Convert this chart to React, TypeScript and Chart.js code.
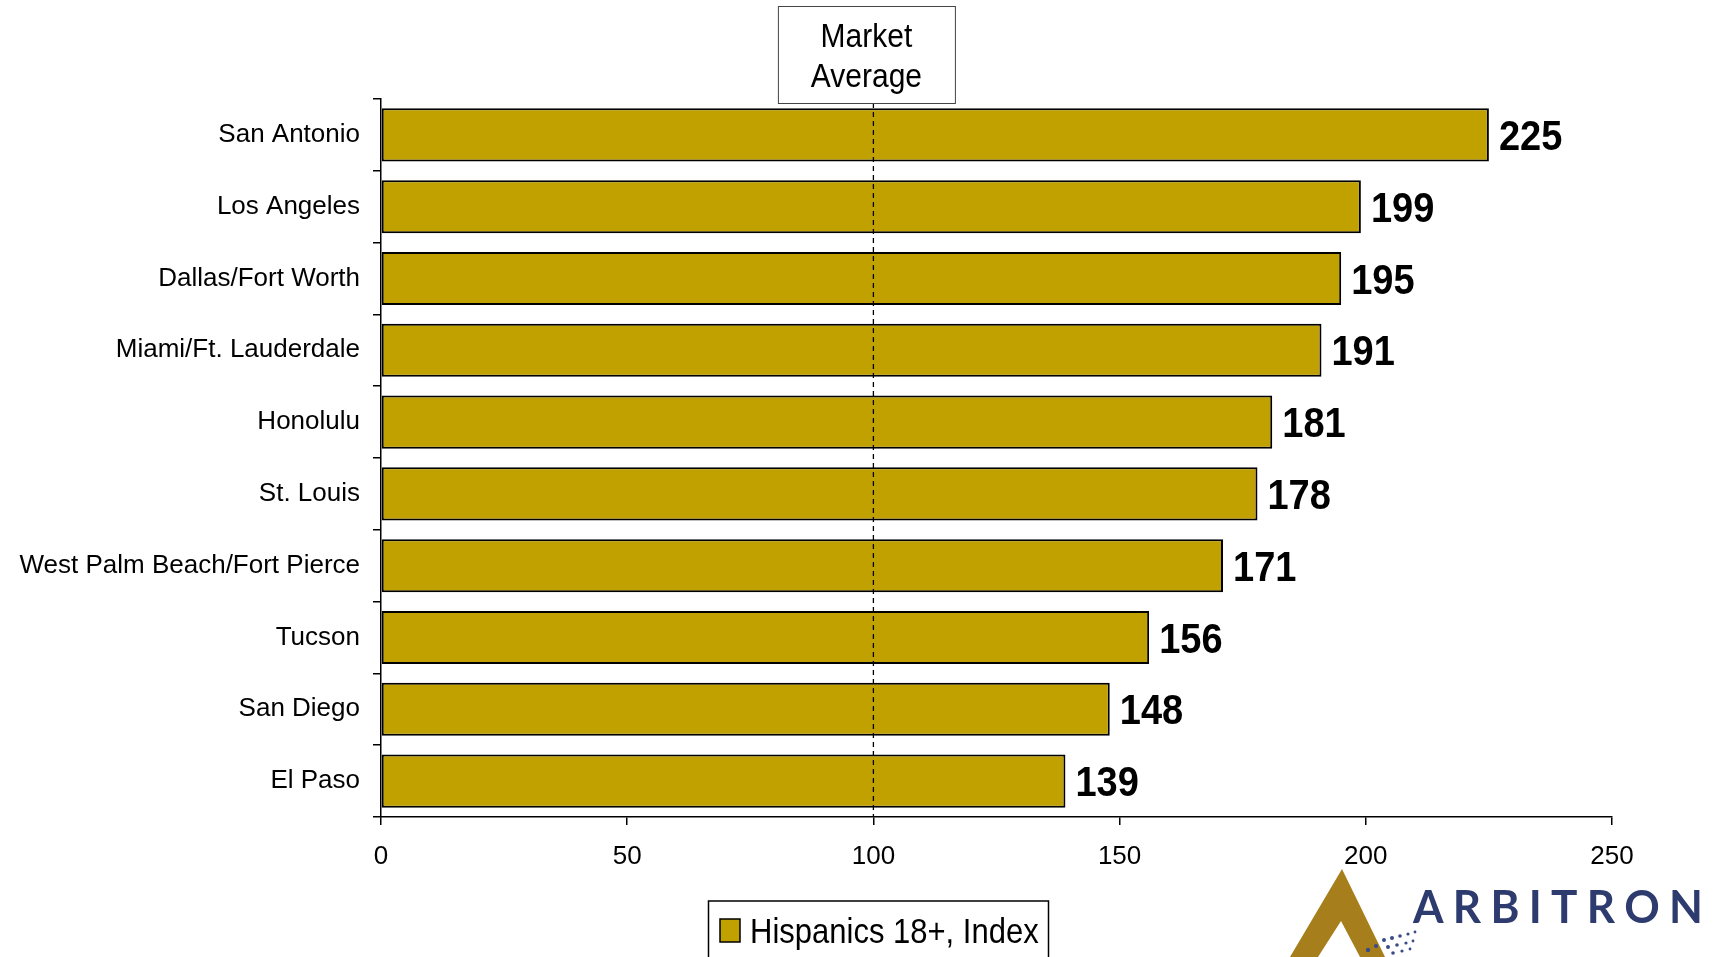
import React, { useEffect, useRef } from "react";
import { Chart, registerables } from "chart.js";

Chart.register(...registerables);

const categories: string[] = [
  "San Antonio",
  "Los Angeles",
  "Dallas/Fort Worth",
  "Miami/Ft. Lauderdale",
  "Honolulu",
  "St. Louis",
  "West Palm Beach/Fort Pierce",
  "Tucson",
  "San Diego",
  "El Paso",
];
const hispanicsIndex: number[] = [225, 199, 195, 191, 181, 178, 171, 156, 148, 139];
const seriesLabel = "Hispanics 18+, Index";
const marketAverage = 100;
const marketAverageLines: string[] = ["Market", "Average"];
const xMin = 0;
const xMax = 250;
const xStep = 50;
const logoText = "ARBITRON";

const GOLD = "#C1A100";
const FONT = "'Liberation Sans', Arial, sans-serif";

function tallText(ctx: CanvasRenderingContext2D, text: string, x: number, y: number, sy: number) {
  ctx.save();
  ctx.translate(x, y);
  ctx.scale(1, sy);
  ctx.fillText(text, 0, 0);
  ctx.restore();
}

const overlayPlugin = {
  id: "overlay",
  afterDatasetsDraw(chart: any) {
    const ctx = chart.ctx as CanvasRenderingContext2D;
    const xs = chart.scales.x;
    const area = chart.chartArea;
    const meta = chart.getDatasetMeta(0);
    // value labels
    ctx.save();
    ctx.fillStyle = "#000";
    ctx.font = `bold 38px ${FONT}`;
    ctx.textAlign = "left";
    ctx.textBaseline = "alphabetic";
    meta.data.forEach((bar: any, i: number) => {
      tallText(ctx, String(hispanicsIndex[i]), bar.x + 10, bar.y + 15, 1.1);
    });
    ctx.restore();
    // dashed market average line
    const px = xs.getPixelForValue(marketAverage);
    ctx.save();
    ctx.strokeStyle = "#000";
    ctx.lineWidth = 1.3;
    ctx.setLineDash([5, 4]);
    ctx.beginPath();
    ctx.moveTo(px, 103);
    ctx.lineTo(px, area.bottom);
    ctx.stroke();
    ctx.restore();
  },
  afterDraw(chart: any) {
    const ctx = chart.ctx as CanvasRenderingContext2D;
    const xs = chart.scales.x;
    const px = xs.getPixelForValue(marketAverage);
    // annotation box
    ctx.save();
    const bl = px - 95.5;
    const bw = 177;
    ctx.fillStyle = "#fff";
    ctx.fillRect(bl, 6, bw, 97);
    ctx.strokeStyle = "#444";
    ctx.lineWidth = 1;
    ctx.strokeRect(bl + 0.5, 6.5, bw, 97);
    ctx.fillStyle = "#000";
    ctx.font = `30px ${FONT}`;
    ctx.textAlign = "center";
    ctx.textBaseline = "alphabetic";
    tallText(ctx, marketAverageLines[0], bl + bw / 2, 47, 1.12);
    tallText(ctx, marketAverageLines[1], bl + bw / 2, 87, 1.12);
    ctx.restore();

    // legend
    ctx.save();
    ctx.strokeStyle = "#000";
    ctx.lineWidth = 1.5;
    ctx.strokeRect(708.5, 901, 340, 80);
    ctx.fillStyle = GOLD;
    ctx.fillRect(720, 919, 20, 23);
    ctx.strokeRect(720, 919, 20, 23);
    ctx.fillStyle = "#000";
    ctx.font = `31px ${FONT}`;
    ctx.textAlign = "left";
    ctx.textBaseline = "alphabetic";
    tallText(ctx, seriesLabel, 750, 943, 1.15);
    ctx.restore();

    // logo
    ctx.save();
    ctx.fillStyle = "#A67E1C";
    ctx.beginPath();
    ctx.moveTo(1342, 869);
    ctx.lineTo(1385, 957);
    ctx.lineTo(1360, 957);
    ctx.lineTo(1341, 921);
    ctx.lineTo(1318, 957);
    ctx.lineTo(1290, 957);
    ctx.closePath();
    ctx.fill();
    ctx.fillStyle = "#3A4A86";
    const dots: number[][] = [
      [1384, 940, 2], [1392, 938, 2], [1400, 936, 1.8], [1408, 934, 1.6], [1415, 932, 1.4],
      [1388, 947, 2], [1397, 945, 1.8], [1406, 943, 1.6], [1413, 941, 1.4],
      [1393, 953, 1.8], [1402, 951, 1.6], [1410, 949, 1.4], [1368, 950, 2.2], [1376, 946, 2],
    ];
    dots.forEach(([x, y, r]) => {
      ctx.beginPath();
      ctx.arc(x, y, r, 0, Math.PI * 2);
      ctx.fill();
    });
    ctx.fillStyle = "#2D3B6E";
    ctx.font = `bold 44px Lato, ${FONT}`;
    ctx.textAlign = "left";
    ctx.textBaseline = "alphabetic";
    const letters = logoText.split("");
    const widths = letters.map((l) => ctx.measureText(l).width);
    const total = widths.reduce((a, b) => a + b, 0);
    const gap = (290 - total) / (letters.length - 1);
    let lx = 1413;
    letters.forEach((l, i) => {
      tallText(ctx, l, lx, 923, 1.05);
      lx += widths[i] + gap;
    });
    ctx.restore();
  },
};

export default function App() {
  const canvasRef = useRef<HTMLCanvasElement | null>(null);

  useEffect(() => {
    if (!canvasRef.current) return;
    const chart = new Chart(canvasRef.current, {
      type: "bar",
      data: {
        labels: categories,
        datasets: [
          {
            label: seriesLabel,
            data: hispanicsIndex,
            backgroundColor: GOLD,
            borderColor: "#000",
            borderWidth: 2,
            borderSkipped: false,
            barPercentage: 0.74,
            categoryPercentage: 1,
          },
        ],
      },
      options: {
        indexAxis: "y",
        animation: false,
        responsive: true,
        maintainAspectRatio: false,
        layout: { padding: { top: 99, right: 111, bottom: 80, left: 0 } },
        plugins: {
          legend: { display: false },
          tooltip: { enabled: false },
        },
        scales: {
          x: {
            type: "linear",
            min: xMin,
            max: xMax,
            ticks: {
              stepSize: xStep,
              color: "#000",
              font: { size: 26, family: FONT },
              padding: 16,
            },
            grid: {
              drawOnChartArea: false,
              drawTicks: true,
              tickLength: 8,
              color: "#000",
              lineWidth: 1.5,
            },
            border: { display: true, color: "#000", width: 1.5 },
            afterFit: (scale: any) => {
              scale.height = 60;
            },
          },
          y: {
            type: "category",
            offset: true,
            ticks: {
              color: "#000",
              font: { size: 26, family: FONT },
              padding: 13,
            },
            grid: {
              offset: true,
              drawOnChartArea: false,
              drawTicks: true,
              tickLength: 8,
              color: "#000",
              lineWidth: 1.5,
            },
            border: { display: true, color: "#000", width: 1.5 },
            afterFit: (scale: any) => {
              scale.width = 381;
            },
          },
        },
      },
      plugins: [overlayPlugin],
    } as any);
    return () => chart.destroy();
  }, []);

  return (
    <div style={{ position: "fixed", left: 0, top: 0, width: 1723, height: 957, background: "#fff" }}>
      <canvas ref={canvasRef} style={{ width: "100%", height: "100%" }} />
    </div>
  );
}
